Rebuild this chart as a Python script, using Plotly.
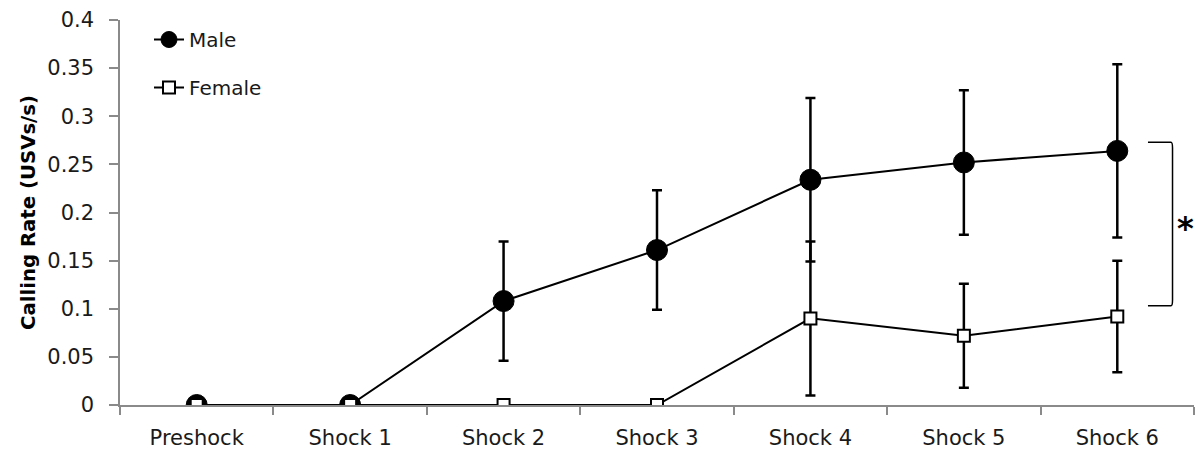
import plotly.graph_objects as go

categories = ["Preshock", "Shock 1", "Shock 2", "Shock 3", "Shock 4", "Shock 5", "Shock 6"]
male = [0, 0, 0.108, 0.161, 0.234, 0.252, 0.264]
male_err = [0, 0, 0.062, 0.062, 0.085, 0.075, 0.090]
female = [0, 0, 0, 0, 0.090, 0.072, 0.092]
female_err = [0, 0, 0, 0, 0.080, 0.054, 0.058]
y_ticks = [0, 0.05, 0.1, 0.15, 0.2, 0.25, 0.3, 0.35, 0.4]

FONT = "DejaVu Sans"
TXT = "#1a1a1a"
AXC = "#8a8a8a"

fig = go.Figure()
fig.add_trace(go.Scatter(
    x=categories, y=male, name="Male", legendgroup="m",
    mode="lines+markers",
    line=dict(color="black", width=2),
    marker=dict(symbol="circle", size=21, color="black", line=dict(color="black", width=1)),
    error_y=dict(type="data", array=male_err, visible=True, color="black", thickness=2.5, width=5),
))
fig.add_trace(go.Scatter(
    x=categories, y=female, name="Female", legendgroup="f",
    mode="lines+markers",
    line=dict(color="black", width=2),
    marker=dict(symbol="square", size=12, color="white", line=dict(color="black", width=2)),
    error_y=dict(type="data", array=female_err, visible=True, color="black", thickness=2.5, width=5),
))

# significance bracket
fig.add_shape(type="path", xref="x", yref="y",
              path="M 6.2,0.273 L 6.35,0.273 Q 6.36,0.273 6.36,0.267 L 6.36,0.109 Q 6.36,0.103 6.35,0.103 L 6.2,0.103",
              line=dict(color="black", width=1.5))
fig.add_annotation(x=6.445, y=0.188, xref="x", yref="y", text="<b>*</b>", showarrow=False,
                   yshift=-4, font=dict(family=FONT, size=32, color="black"))

# page body has an 8px margin, so the plot area is offset accordingly
fig.update_layout(
    width=1204, height=452,
    margin=dict(l=112, r=18, t=12, b=55),
    paper_bgcolor="white", plot_bgcolor="white",
    font=dict(family=FONT, size=20, color=TXT),
    showlegend=True,
    legend=dict(x=0.027, y=1.0, xanchor="left", yanchor="top",
                bgcolor="rgba(0,0,0,0)", tracegroupgap=19,
                font=dict(family=FONT, size=20, color=TXT)),
    xaxis=dict(
        type="category", range=[-0.5, 6.5], automargin=False,
        showline=True, linecolor=AXC, linewidth=1.5,
        ticks="outside", tickson="boundaries", ticklen=8, tickcolor=AXC, tickwidth=1.5,
        showgrid=False, zeroline=False, ticklabelstandoff=13,
        tickfont=dict(family=FONT, size=21, color=TXT),
    ),
    yaxis=dict(
        range=[0, 0.4], tickvals=y_ticks, ticktext=[str(v) for v in y_ticks], automargin=False,
        showline=True, linecolor=AXC, linewidth=1.5,
        ticks="outside", ticklen=9, tickcolor=AXC, tickwidth=1.5,
        showgrid=False, zeroline=False, ticklabelstandoff=11,
        tickfont=dict(family=FONT, size=21, color=TXT),
        title=dict(text="<b>Calling Rate (USVs/s)</b>", font=dict(family=FONT, size=19.7, color="black"), standoff=6),
    ),
)

fig.write_html("out.html")
